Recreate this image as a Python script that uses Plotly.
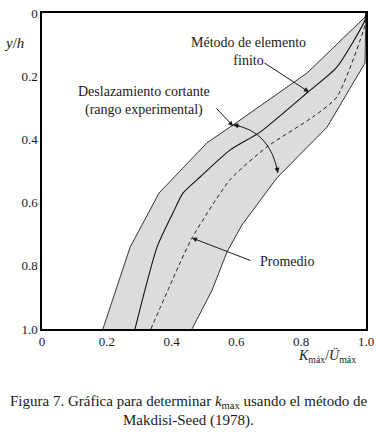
import plotly.graph_objects as go

# Data (x = K_max/U_max, y = y/h)
left_x = [0.188, 0.272, 0.361, 0.509, 0.590, 0.818, 0.997, 1.0]
left_y = [1.0, 0.741, 0.570, 0.411, 0.354, 0.190, 0.013, 0.0]

right_x = [0.463, 0.525, 0.571, 0.617, 0.725, 0.880, 0.997, 1.0]
right_y = [1.0, 0.877, 0.756, 0.671, 0.522, 0.361, 0.158, 0.0]

fem_x = [0.287, 0.355, 0.404, 0.435, 0.488, 0.580, 0.673, 0.821, 0.910, 0.997, 1.0]
fem_y = [1.0, 0.741, 0.633, 0.570, 0.519, 0.434, 0.377, 0.250, 0.171, 0.022, 0.0]

avg_x = [0.336, 0.426, 0.463, 0.580, 0.694, 0.836, 0.910, 0.997, 1.0]
avg_y = [1.0, 0.791, 0.712, 0.528, 0.424, 0.329, 0.266, 0.038, 0.0]

tick_vals = [0, 0.2, 0.4, 0.6, 0.8, 1.0]
tick_text = ["0", "0.2", "0.4", "0.6", "0.8", "1.0"]

FONT = "Liberation Serif"
INK = "#1a1a1a"

fig = go.Figure()

band_x = left_x + right_x[::-1]
band_y = left_y + right_y[::-1]
fig.add_trace(go.Scatter(x=band_x, y=band_y, mode="lines", fill="toself",
                         fillcolor="rgb(220,220,221)",
                         line=dict(color="#333333", width=1), hoverinfo="skip"))
fig.add_trace(go.Scatter(x=fem_x, y=fem_y, mode="lines",
                         line=dict(color="#111111", width=1.1, shape="spline", smoothing=0.6)))
fig.add_trace(go.Scatter(x=avg_x, y=avg_y, mode="lines",
                         line=dict(color="#222222", width=1, dash="4px,3px",
                                   shape="spline", smoothing=0.6)))

fig.add_shape(type="path", xref="x", yref="y",
              path="M 0.590 0.354 Q 0.705 0.373 0.728 0.506",
              line=dict(color=INK, width=1))

ann = []
ann.append(dict(x=0.590, y=0.354, xref="x", yref="y", text="", showarrow=True,
                ax=8, ay=1.3, arrowhead=2, arrowsize=1, arrowwidth=1, arrowcolor=INK))
ann.append(dict(x=0.728, y=0.506, xref="x", yref="y", text="", showarrow=True,
                ax=-1.5, ay=-8, arrowhead=2, arrowsize=1, arrowwidth=1, arrowcolor=INK))
for (tx, ty, hx, hy) in [(0.682, 0.155, 0.824, 0.250),
                         (0.534, 0.297, 0.590, 0.358),
                         (0.648, 0.785, 0.463, 0.712)]:
    ann.append(dict(x=hx, y=hy, ax=tx, ay=ty, xref="x", yref="y", axref="x", ayref="y",
                    text="", showarrow=True, arrowhead=2, arrowsize=1, arrowwidth=1,
                    arrowcolor=INK))

tf = dict(family=FONT, size=14, color=INK)
ann.append(dict(x=0.636, y=0.123, xref="x", yref="y", text="Método de elemento<br>finito",
                showarrow=False, font=tf, align="center", xanchor="center", yanchor="middle"))
ann.append(dict(x=0.315, y=0.278, xref="x", yref="y",
                text="Deslazamiento cortante<br>(rango experimental)",
                showarrow=False, font=tf, align="center", xanchor="center", yanchor="middle"))
ann.append(dict(x=0.667, y=0.785, xref="x", yref="y", text="Promedio",
                showarrow=False, font=tf, xanchor="left", yanchor="middle"))

ann.append(dict(x=-0.086, y=0.905, xref="paper", yref="paper", text="<i>y</i>/<i>h</i>",
                showarrow=False, font=dict(family=FONT, size=15, color=INK),
                xanchor="center", yanchor="middle"))
ann.append(dict(x=0.880, y=-0.084, xref="paper", yref="paper",
                text="<i>K</i><sub>máx</sub>/<i>Ü</i><sub>máx</sub>",
                showarrow=False, font=dict(family=FONT, size=14, color=INK),
                xanchor="center", yanchor="middle"))

cf = dict(family=FONT, size=15, color=INK)
ann.append(dict(x=0.4537, y=-0.231, xref="paper", yref="paper",
                text="Figura 7. Gráfica para determinar <i>k</i><sub>max</sub> usando el método de",
                showarrow=False, font=cf, xanchor="center", yanchor="middle"))
ann.append(dict(x=0.4537, y=-0.288, xref="paper", yref="paper",
                text="Makdisi-Seed (1978).", showarrow=False, font=cf,
                xanchor="center", yanchor="middle"))

axis_common = dict(showgrid=False, zeroline=False, showline=True, mirror=True,
                   linecolor="black", linewidth=1.5, ticks="",
                   tickvals=tick_vals, ticktext=tick_text,
                   tickfont=dict(family=FONT, size=13, color=INK))

fig.update_layout(
    width=378, height=441,
    margin=dict(l=42, r=12, t=13, b=112, autoexpand=False),
    paper_bgcolor="white", plot_bgcolor="white",
    showlegend=False,
    font=dict(family=FONT),
    xaxis=dict(range=[0, 1], **axis_common),
    yaxis=dict(range=[1, 0], **axis_common),
    annotations=ann,
)

fig.write_html("out.html", config={"displayModeBar": False},
               post_script="document.body.style.margin='0';")
